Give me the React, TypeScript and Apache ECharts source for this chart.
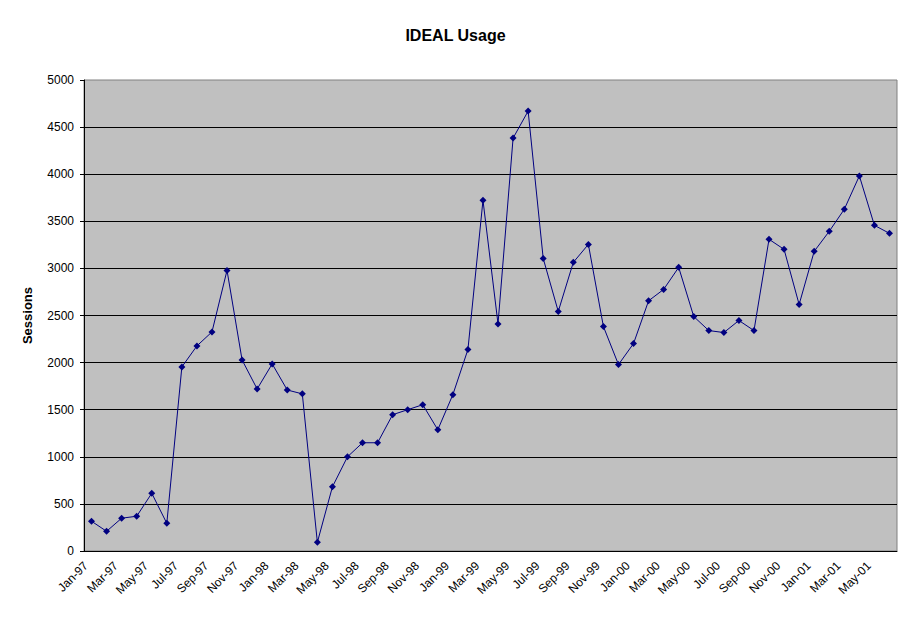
import { useEffect, useRef } from "react";
import * as echarts from "echarts";

const months = [
  "Jan-97", "Feb-97", "Mar-97", "Apr-97", "May-97", "Jun-97", "Jul-97", "Aug-97", "Sep-97", "Oct-97", "Nov-97", "Dec-97",
  "Jan-98", "Feb-98", "Mar-98", "Apr-98", "May-98", "Jun-98", "Jul-98", "Aug-98", "Sep-98", "Oct-98", "Nov-98", "Dec-98",
  "Jan-99", "Feb-99", "Mar-99", "Apr-99", "May-99", "Jun-99", "Jul-99", "Aug-99", "Sep-99", "Oct-99", "Nov-99", "Dec-99",
  "Jan-00", "Feb-00", "Mar-00", "Apr-00", "May-00", "Jun-00", "Jul-00", "Aug-00", "Sep-00", "Oct-00", "Nov-00", "Dec-00",
  "Jan-01", "Feb-01", "Mar-01", "Apr-01", "May-01", "Jun-01",
];

// sessions per month
const sessions = [
  316, 209, 348, 369, 613, 294, 1954, 2177, 2326, 2979, 2028, 1720,
  1986, 1709, 1668, 92, 681, 1000, 1149, 1149, 1447, 1500, 1553, 1287,
  1660, 2138, 3723, 2411, 4383, 4670, 3106, 2543, 3064, 3255, 2383, 1979,
  2202, 2656, 2777, 3011, 2489, 2340, 2319, 2447, 2340, 3309, 3202, 2617,
  3181, 3394, 3628, 3982, 3457, 3372,
];

const FONT = "'Liberation Sans', Arial, sans-serif";

export default function App() {
  const chartRef = useRef<HTMLDivElement>(null);

  useEffect(() => {
    if (!chartRef.current) return;
    const chart = echarts.init(chartRef.current, undefined, { renderer: "svg" });

    chart.setOption({
      animation: false,
      backgroundColor: "#ffffff",
      title: {
        text: "IDEAL Usage",
        left: "center",
        top: 22,
        textStyle: { fontFamily: FONT, fontSize: 16, fontWeight: "bold", color: "#000" },
      },
      grid: {
        left: 84,
        right: 14,
        top: 80,
        bottom: 72,
        show: true,
        backgroundColor: "#c0c0c0",
        borderColor: "#808080",
        borderWidth: 1,
      },
      xAxis: {
        type: "category",
        data: months,
        boundaryGap: true,
        axisLine: { lineStyle: { color: "#000", width: 1 } },
        axisTick: { interval: 1, length: 4, lineStyle: { color: "#000" } },
        axisLabel: {
          interval: 1,
          rotate: 45,
          margin: 7,
          padding: [0, 8, 0, 0],
          fontFamily: FONT,
          fontSize: 12,
          color: "#000",
        },
      },
      yAxis: {
        type: "value",
        min: 0,
        max: 5000,
        interval: 500,
        name: "Sessions",
        nameLocation: "middle",
        nameGap: 50,
        nameTextStyle: { fontFamily: FONT, fontSize: 13, fontWeight: "bold", color: "#000" },
        axisLine: { show: true, lineStyle: { color: "#000", width: 1 } },
        axisTick: { show: true, length: 4, lineStyle: { color: "#000" } },
        axisLabel: {
          margin: 10,
          fontFamily: FONT,
          fontSize: 12,
          color: "#000",
          formatter: (v: number) => String(v),
        },
        splitLine: {
          show: true,
          showMinLine: false,
          showMaxLine: false,
          lineStyle: { color: "#000", width: 1 },
        },
      },
      series: [
        {
          type: "line",
          data: sessions,
          symbol: "diamond",
          symbolSize: 7,
          lineStyle: { color: "#000080", width: 1 },
          itemStyle: { color: "#000080" },
        },
      ],
    });

    return () => chart.dispose();
  }, []);

  return (
    <div
      ref={chartRef}
      style={{ position: "fixed", left: 0, top: 0, width: 911, height: 623 }}
    />
  );
}
